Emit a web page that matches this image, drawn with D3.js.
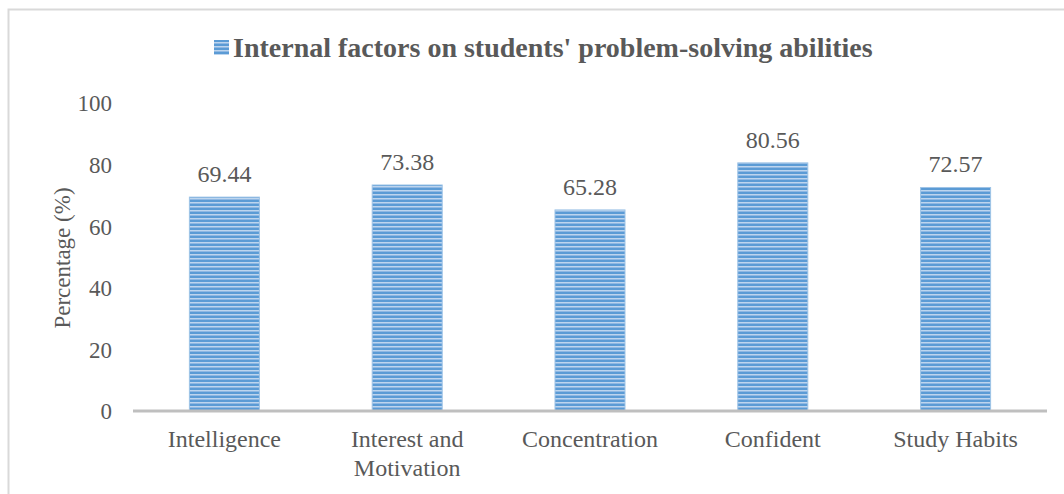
<!DOCTYPE html>
<html>
<head>
<meta charset="utf-8">
<script src="https://cdn.jsdelivr.net/npm/d3@7"></script>
<style>
  body { margin: 0; background: #fff; }
  svg { display: block; }
  text { font-family: "Liberation Serif", "Times New Roman", serif; fill: #595959; }
</style>
</head>
<body>
<svg id="chart" width="1064" height="494"></svg>
<script>
const categories = ["Intelligence", "Interest and|Motivation", "Concentration", "Confident", "Study Habits"];
const values = [69.44, 73.38, 65.28, 80.56, 72.57];
const yTicks = [0, 20, 40, 60, 80, 100];
const titleText = "Internal factors on students' problem-solving abilities";
const yLabel = "Percentage (%)";

const svg = d3.select("#chart");
const W = 1064, H = 494;

// chart frame
svg.append("rect")
  .attr("x", 8.5).attr("y", 9.5)
  .attr("width", W + 20).attr("height", H + 20)
  .attr("fill", "none").attr("stroke", "#d9d9d9").attr("stroke-width", 2);

// striped fill for the bars
const defs = svg.append("defs");
const pat = defs.append("pattern")
  .attr("id", "stripes").attr("patternUnits", "userSpaceOnUse")
  .attr("width", 8).attr("height", 4);
pat.append("rect").attr("width", 8).attr("height", 4).attr("fill", "#5b9bd5");
pat.append("rect").attr("y", 2).attr("width", 8).attr("height", 1).attr("fill", "#bdd5ee");
pat.append("rect").attr("y", 3).attr("width", 8).attr("height", 1).attr("fill", "#8fb8e3");

const plotLeft = 133, plotRight = 1047, plotTop = 103, plotBottom = 411;

const x = d3.scaleBand().domain(categories).range([plotLeft, plotRight]).paddingInner(0.617).paddingOuter(0.3085);
const y = d3.scaleLinear().domain([0, 100]).range([plotBottom, plotTop]);

// bars
svg.append("g").selectAll("rect").data(values).join("rect")
  .attr("x", (d, i) => x(categories[i]))
  .attr("y", d => y(d))
  .attr("width", x.bandwidth())
  .attr("height", d => y(0) - y(d))
  .attr("fill", "url(#stripes)")
  .attr("stroke", "#9dc3e6").attr("stroke-width", 1);

// baseline
svg.append("line")
  .attr("x1", plotLeft).attr("x2", plotRight)
  .attr("y1", y(0)).attr("y2", y(0))
  .attr("stroke", "#bfbfbf").attr("stroke-width", 3);

// y tick labels
const yAxis = d3.axisLeft(y).tickValues(yTicks).tickSize(0).tickPadding(0);
const gy = svg.append("g").attr("transform", `translate(${112},0)`).call(yAxis);
gy.select(".domain").remove();
gy.selectAll("text")
  .attr("font-size", 23)
  .attr("fill", "#595959")
  .attr("dy", "0.34em");

// value labels
svg.append("g").selectAll("text").data(values).join("text")
  .attr("x", (d, i) => x(categories[i]) + x.bandwidth() / 2)
  .attr("y", d => y(d) - 15)
  .attr("text-anchor", "middle")
  .attr("font-size", 24)
  .text(d => d.toFixed(2));

// category labels (two lines where needed)
const xl = svg.append("g");
categories.forEach(c => {
  const lines = c.split("|");
  const t = xl.append("text")
    .attr("x", x(c) + x.bandwidth() / 2)
    .attr("y", 447)
    .attr("text-anchor", "middle")
    .attr("font-size", 24);
  lines.forEach((ln, j) => {
    t.append("tspan")
      .attr("x", x(c) + x.bandwidth() / 2)
      .attr("dy", j === 0 ? 0 : 29)
      .text(ln);
  });
});

// y axis title
svg.append("text")
  .attr("transform", `translate(70,${258}) rotate(-90)`)
  .attr("text-anchor", "middle")
  .attr("font-size", 23)
  .text(yLabel);

// title with legend key
const titleG = svg.append("g");
titleG.append("rect")
  .attr("x", 214).attr("y", 40).attr("width", 15).attr("height", 15)
  .attr("fill", "url(#stripes)");
titleG.append("text")
  .attr("x", 233).attr("y", 57)
  .attr("font-size", 28).attr("font-weight", "bold")
  .text(titleText);
</script>
</body>
</html>
